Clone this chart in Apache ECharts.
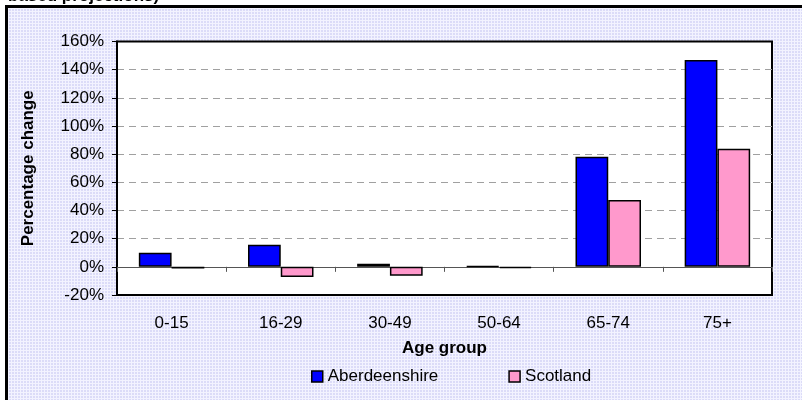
<!DOCTYPE html>
<html>
<head>
<meta charset="utf-8">
<script src="https://cdn.jsdelivr.net/npm/echarts@6/dist/echarts.min.js"></script>
<style>
  html, body { margin: 0; padding: 0; background: #fff; }
  #chart { width: 802px; height: 400px; }
</style>
</head>
<body>
<div id="chart"></div>
<script>
// values, in percent
const ageGroups = ['0-15', '16-29', '30-49', '50-64', '65-74', '75+']
const aberdeenshire = [10.0, 15.7, 2.2, 0.5, 78.2, 146.9]
const scotland = [-1.2, -7.2, -6.3, -1.0, 47.4, 83.9]
const yTicks = [-20, 0, 20, 40, 60, 80, 100, 120, 140, 160]

// dotted lavender backdrop like the Excel chart area
function makePattern(){
    const c = document.createElement('canvas')
    c.width = 3
    c.height = 3
    const ctx = c.getContext('2d')
    ctx.fillStyle = '#f3f3ff'
    ctx.fillRect(0, 0, 3, 3)
    ctx.fillStyle = '#dcdcf8'
    ctx.fillRect(0, 0, 2, 2)
    return c
}

const font = '"Liberation Sans", Arial, sans-serif'
const chart = echarts.init(document.getElementById('chart'))

const option = {
    backgroundColor: '#fff',
    animation: false,
    textStyle: { fontFamily: font },
    graphic: [
        {
            type: 'rect', z: -10,
            shape: { x: 6.5, y: 6.5, width: 900, height: 500 },
            style: { fill: { image: makePattern(), repeat: 'repeat' }, stroke: '#000', lineWidth: 3 }
        },
        {
            type: 'text', left: 8, top: -12,
            style: { text: 'based projections)', font: 'bold 17px ' + font, fill: '#000' }
        }
    ],
    grid: {
        left: 117, right: 30, top: 41.5, bottom: 105,
        show: true, backgroundColor: '#fff', borderColor: '#000', borderWidth: 2
    },
    legend: {
        bottom: 10, left: 306,
        icon: 'rect', itemWidth: 11, itemHeight: 11, itemGap: 70,
        itemStyle: { borderColor: '#000', borderWidth: 1.5 },
        textStyle: { fontSize: 17, color: '#000', fontFamily: font },
        data: ['Aberdeenshire', 'Scotland']
    },
    xAxis: [
        {
            type: 'category', data: ageGroups, position: 'bottom',
            axisLine: { onZero: true, lineStyle: { color: '#555', width: 1 } },
            axisTick: { show: true, length: 5, lineStyle: { color: '#555' } },
            axisLabel: { show: false },
            splitLine: { show: false }
        },
        {
            type: 'category', data: ageGroups, position: 'bottom',
            axisLine: { show: false, onZero: false },
            axisTick: { show: false },
            axisLabel: { fontSize: 17, color: '#000', margin: 20 },
            name: 'Age group', nameLocation: 'middle', nameGap: 45,
            nameTextStyle: { fontSize: 17, fontWeight: 'bold', color: '#000' }
        }
    ],
    yAxis: {
        type: 'value', min: yTicks[0], max: yTicks[yTicks.length - 1], interval: 20,
        axisLine: { show: true, lineStyle: { color: '#000', width: 2 } },
        axisTick: { show: true, length: 5, lineStyle: { color: '#000' } },
        axisLabel: { fontSize: 17, color: '#000', margin: 13, formatter: v => v + '%' },
        splitLine: { show: true, showMinLine: false, showMaxLine: false, lineStyle: { color: '#a0a0a0', type: [7, 5] } },
        name: 'Percentage change', nameLocation: 'middle', nameGap: 80,
        nameTextStyle: { fontSize: 17, fontWeight: 'bold', color: '#000' }
    },
    series: [
        {
            name: 'Aberdeenshire', type: 'bar', xAxisIndex: 0, data: aberdeenshire,
            barGap: '0%', barCategoryGap: '40%',
            itemStyle: { color: '#0000ff', borderColor: '#000', borderWidth: 1.5 }
        },
        {
            name: 'Scotland', type: 'bar', xAxisIndex: 0, data: scotland,
            itemStyle: { color: '#ff99cc', borderColor: '#000', borderWidth: 1.5 }
        }
    ]
}
chart.setOption(option)
</script>
</body>
</html>
